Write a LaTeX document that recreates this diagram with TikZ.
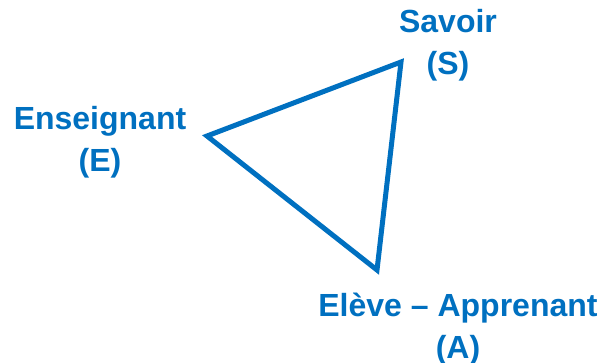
\documentclass[tikz,border=0pt]{standalone}
\usepackage{fontspec}
\setmainfont{Liberation Sans}
\definecolor{mblue}{HTML}{0070C0}
\begin{document}
\begin{tikzpicture}[x=1pt,y=-1pt,
  lbl/.style={text=mblue,font=\fontsize{32}{42}\selectfont\bfseries,align=center,anchor=base,inner sep=0pt},
  tri/.style={draw=mblue,line width=5pt,line join=miter}]
\useasboundingbox (0,0) rectangle (602,363);
\coordinate (e) at (207,136);
\coordinate (s) at (401,62);
\coordinate (a) at (377,270);
\draw[tri] (e) -- (s) -- (a) -- cycle;
\node[lbl] (en) at (100,172) {Enseignant\\(E)};
\node[lbl] (sa) at (448,75) {Savoir\\(S)};
\node[lbl] (el) at (458,358) {Elève – Apprenant\\(A)};
\end{tikzpicture}
\end{document}
